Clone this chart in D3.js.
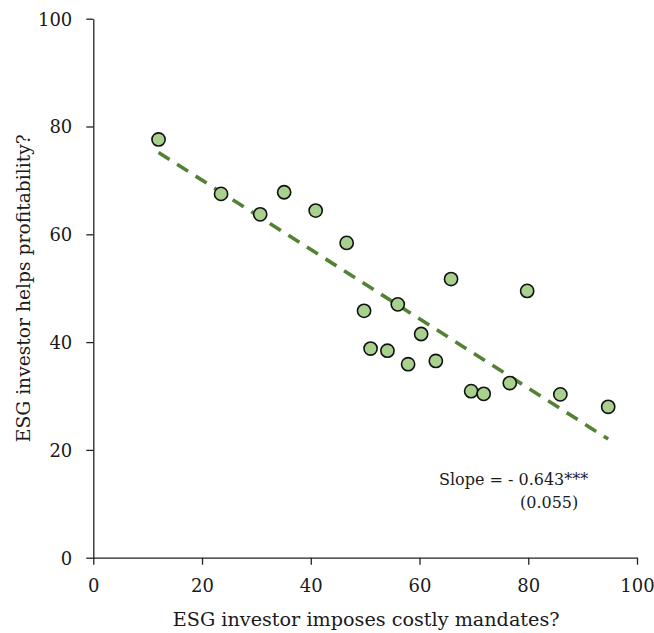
<!DOCTYPE html>
<html>
<head>
<meta charset="utf-8">
<script src="https://cdn.jsdelivr.net/npm/d3@7"></script>
<style>
  html, body { margin: 0; padding: 0; background: #fff; }
  svg text { font-family: "DejaVu Serif", "Liberation Serif", serif; fill: #1a1a1a; }
</style>
</head>
<body>
<svg id="chart" width="654" height="633"></svg>
<script>
// Share of respondents: "imposes costly mandates?" vs "helps profitability?"
const mandates      = [12.0, 23.5, 30.7, 35.1, 40.9, 46.6, 49.8, 51.0, 54.1, 56.0,
                       57.9, 60.3, 63.0, 65.8, 69.5, 71.8, 76.6, 79.8, 85.9, 94.7];
const profitability = [77.6, 67.5, 63.7, 67.8, 64.4, 58.4, 45.8, 38.8, 38.4, 47.0,
                       35.9, 41.5, 36.5, 51.7, 30.9, 30.4, 32.4, 49.5, 30.3, 28.0];

// Fitted line: slope and intercept, drawn across the observed x range
const fitSlope = -0.643;
const fitIntercept = 82.9;
const fitRange = [12.0, 94.7];

const xTicks = [0, 20, 40, 60, 80, 100];
const yTicks = [0, 20, 40, 60, 80, 100];
const slopeLabel = "Slope = - 0.643***";
const seLabel = "(0.055)";
const xTitle = "ESG investor imposes costly mandates?";
const yTitle = "ESG investor helps profitability?";

const svg = d3.select("#chart");
const margin = { left: 93.3, top: 18.7, right: 17, bottom: 75.3 };
const W = 654, H = 633;

const x = d3.scaleLinear().domain([0, 100]).range([margin.left, W - margin.right]);
const y = d3.scaleLinear().domain([0, 100]).range([H - margin.bottom, margin.top]);

// Axes
const xAxis = svg.append("g")
  .attr("transform", `translate(0,${y(0)})`)
  .call(d3.axisBottom(x).tickValues(xTicks).tickSize(7).tickSizeOuter(0).tickPadding(15));
const yAxis = svg.append("g")
  .attr("transform", `translate(${x(0)},0)`)
  .call(d3.axisLeft(y).tickValues(yTicks).tickSize(7).tickSizeOuter(0).tickPadding(14));

[xAxis, yAxis].forEach(g => {
  g.select(".domain").attr("stroke", "#222").attr("stroke-width", 1.3);
  g.selectAll(".tick line").attr("stroke", "#222").attr("stroke-width", 1.3);
  g.selectAll(".tick text")
    .attr("font-family", '"DejaVu Serif", serif')
    .attr("font-size", 18)
    .attr("fill", "#1a1a1a");
});
yAxis.selectAll(".tick text").attr("dy", "0.36em");

// Trend line
const fitPts = fitRange.map(v => [v, fitIntercept + fitSlope * v]);
svg.append("path")
  .attr("d", d3.line().x(d => x(d[0])).y(d => y(d[1]))(fitPts))
  .attr("fill", "none")
  .attr("stroke", "#548235")
  .attr("stroke-width", 3.6)
  .attr("stroke-dasharray", "13,9");

// Points
svg.append("g").selectAll("circle")
  .data(d3.range(mandates.length))
  .join("circle")
  .attr("cx", i => x(mandates[i]))
  .attr("cy", i => y(profitability[i]))
  .attr("r", 6.6)
  .attr("fill", "#a9d18e")
  .attr("stroke", "#111")
  .attr("stroke-width", 1.6);

// Regression annotation
svg.append("text")
  .attr("x", 439).attr("y", 485)
  .attr("font-size", 16)
  .text(slopeLabel);
svg.append("text")
  .attr("x", 520).attr("y", 508)
  .attr("font-size", 16)
  .text(seLabel);

// Axis titles
svg.append("text")
  .attr("x", (x(0) + x(100)) / 2 + 1)
  .attr("y", 626)
  .attr("text-anchor", "middle")
  .attr("font-size", 19.2)
  .text(xTitle);
svg.append("text")
  .attr("transform", `translate(30,${(y(0) + y(100)) / 2}) rotate(-90)`)
  .attr("text-anchor", "middle")
  .attr("font-size", 18.7)
  .text(yTitle);
</script>
</body>
</html>
